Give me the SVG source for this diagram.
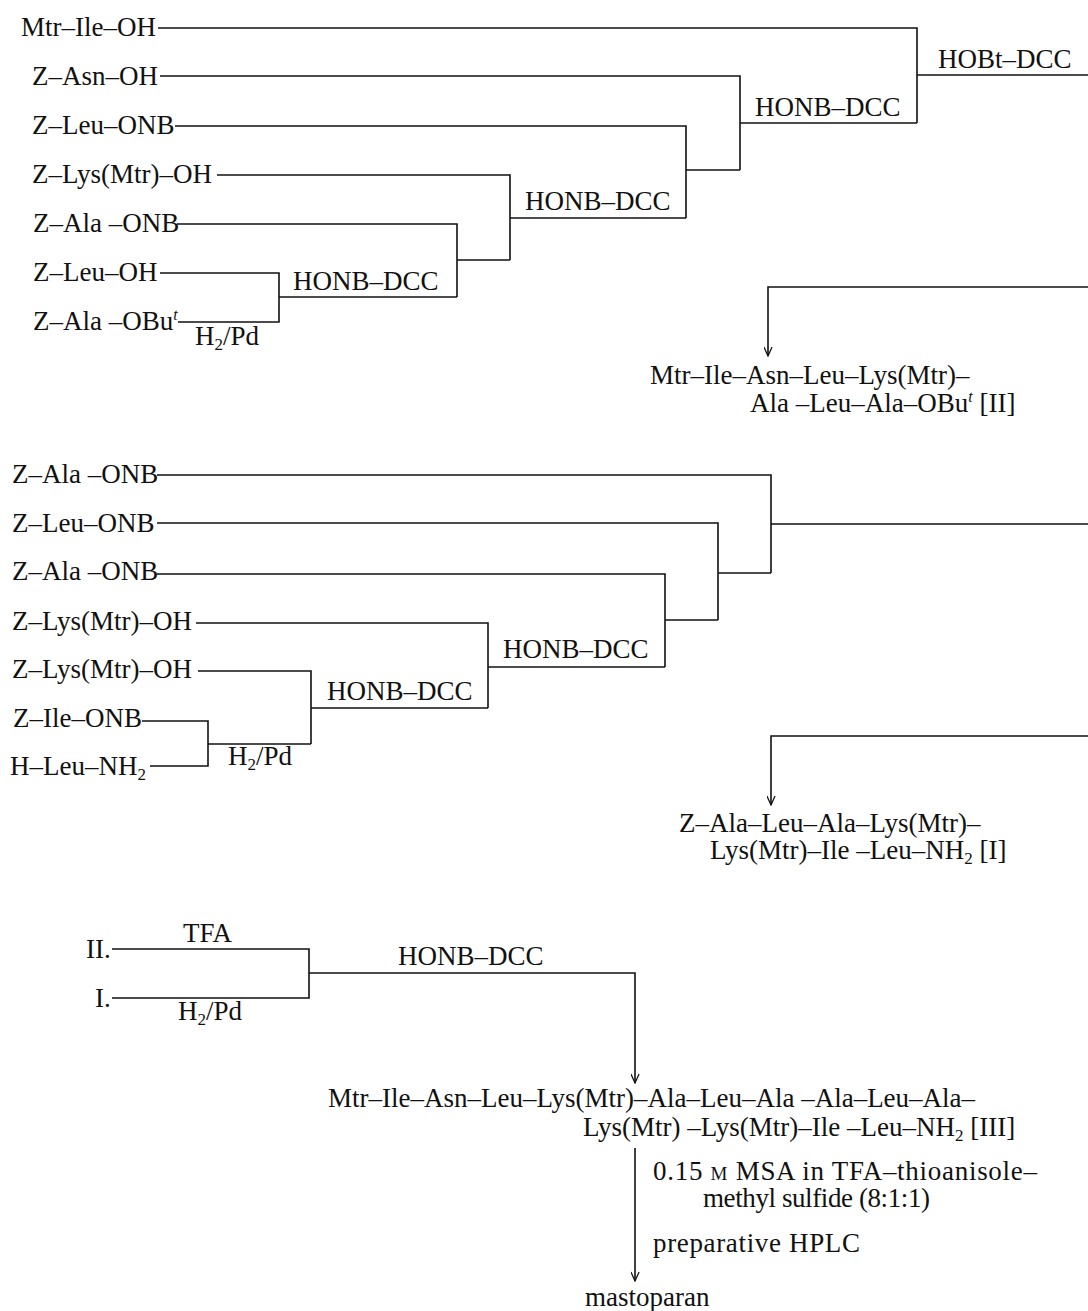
<svg xmlns="http://www.w3.org/2000/svg" width="1088" height="1311" viewBox="0 0 1088 1311">
<style>
text{font-family:"Liberation Serif","Times New Roman",serif;font-size:27px;fill:#111}
.ln{fill:none;stroke:#111;stroke-width:1.6}
.sub{font-size:17px}
.sup{font-size:16px;font-style:italic}
</style>
<defs>
<marker id="arr" viewBox="0 0 10 10" refX="10" refY="5" markerUnits="userSpaceOnUse" markerWidth="11" markerHeight="9" orient="auto">
<path d="M0,0.5 L10,5 L0,9.5" fill="none" stroke="#111" stroke-width="1.4"/>
</marker>
</defs>
<rect width="1088" height="1311" fill="#fff"/>
<g id="connectors">
<path class="ln" d="M158,28 H917 V123"/>
<path class="ln" d="M917,75 H1088"/>
<path class="ln" d="M160,76 H740 V170"/>
<path class="ln" d="M740,123 H917"/>
<path class="ln" d="M175,126 H686 V218"/>
<path class="ln" d="M686,170 H740"/>
<path class="ln" d="M217,175 H510 V260"/>
<path class="ln" d="M510,218 H686"/>
<path class="ln" d="M177,224 H457 V297"/>
<path class="ln" d="M457,260 H510"/>
<path class="ln" d="M160,273 H279 V322 H178"/>
<path class="ln" d="M279,297 H457"/>
<path class="ln" d="M1088,287 H768 V356" marker-end="url(#arr)"/>
<path class="ln" d="M157,475 H771 V573"/>
<path class="ln" d="M771,524 H1088"/>
<path class="ln" d="M157,523 H718 V620"/>
<path class="ln" d="M718,573 H771"/>
<path class="ln" d="M157,574 H665 V667"/>
<path class="ln" d="M665,620 H718"/>
<path class="ln" d="M196,623 H488 V708"/>
<path class="ln" d="M488,667 H665"/>
<path class="ln" d="M198,671 H311 V744"/>
<path class="ln" d="M311,708 H488"/>
<path class="ln" d="M142,721 H208 V766 H150"/>
<path class="ln" d="M208,744 H311"/>
<path class="ln" d="M1088,736 H771 V805" marker-end="url(#arr)"/>
<path class="ln" d="M112,949 H309 V998 H112"/>
<path class="ln" d="M309,973 H635 V1083" marker-end="url(#arr)"/>
<path class="ln" d="M635,1148 V1281" marker-end="url(#arr)"/>
</g>
<g id="n-mtr-ile-oh"><text x="21" y="36">Mtr–Ile–OH</text></g>
<g id="n-z-asn-oh"><text x="32" y="85">Z–Asn–OH</text></g>
<g id="n-z-leu-onb-a"><text x="32" y="134">Z–Leu–ONB</text></g>
<g id="n-z-lys-mtr-oh-a"><text x="32" y="183">Z–Lys(Mtr)–OH</text></g>
<g id="n-z-ala-onb-a"><text x="33" y="232">Z–Ala –ONB</text></g>
<g id="n-z-leu-oh"><text x="33" y="281">Z–Leu–OH</text></g>
<g id="n-z-ala-obut"><text x="33" y="330">Z–Ala –OBu<tspan class="sup" dy="-10">t</tspan></text></g>
<g id="l-h2pd-a"><text x="195" y="345">H<tspan class="sub" dy="5">2</tspan><tspan dy="-5">/Pd</tspan></text></g>
<g id="l-honb-a"><text x="293" y="290">HONB–DCC</text></g>
<g id="l-honb-b"><text x="525" y="210">HONB–DCC</text></g>
<g id="l-honb-c"><text x="755" y="116">HONB–DCC</text></g>
<g id="l-hobt"><text x="938" y="68">HOBt–DCC</text></g>
<g id="n-product-ii">
<text x="650" y="384">Mtr–Ile–Asn–Leu–Lys(Mtr)–</text>
<text x="750" y="412">Ala –Leu–Ala–OBu<tspan class="sup" dy="-10">t</tspan><tspan dy="10">  [II]</tspan></text>
</g>
<g id="n-z-ala-onb-b"><text x="12" y="483">Z–Ala –ONB</text></g>
<g id="n-z-leu-onb-b"><text x="12" y="532">Z–Leu–ONB</text></g>
<g id="n-z-ala-onb-c"><text x="12" y="580">Z–Ala –ONB</text></g>
<g id="n-z-lys-mtr-oh-b"><text x="12" y="630">Z–Lys(Mtr)–OH</text></g>
<g id="n-z-lys-mtr-oh-c"><text x="12" y="678">Z–Lys(Mtr)–OH</text></g>
<g id="n-z-ile-onb"><text x="13" y="727">Z–Ile–ONB</text></g>
<g id="n-h-leu-nh2"><text x="10" y="775">H–Leu–NH<tspan class="sub" dy="5">2</tspan></text></g>
<g id="l-h2pd-b"><text x="228" y="765">H<tspan class="sub" dy="5">2</tspan><tspan dy="-5">/Pd</tspan></text></g>
<g id="l-honb-d"><text x="327" y="700">HONB–DCC</text></g>
<g id="l-honb-e"><text x="503" y="658">HONB–DCC</text></g>
<g id="n-product-i">
<text x="679" y="832">Z–Ala–Leu–Ala–Lys(Mtr)–</text>
<text x="710" y="859">Lys(Mtr)–Ile –Leu–NH<tspan class="sub" dy="5">2</tspan><tspan dy="-5">  [I]</tspan></text>
</g>
<g id="n-ii"><text x="86" y="958">II.</text></g>
<g id="n-i"><text x="95" y="1007">I.</text></g>
<g id="l-tfa"><text x="183" y="942">TFA</text></g>
<g id="l-h2pd-c"><text x="178" y="1020">H<tspan class="sub" dy="5">2</tspan><tspan dy="-5">/Pd</tspan></text></g>
<g id="l-honb-f"><text x="398" y="965">HONB–DCC</text></g>
<g id="n-product-iii">
<text x="328" y="1107">Mtr–Ile–Asn–Leu–Lys(Mtr)–Ala–Leu–Ala –Ala–Leu–Ala–</text>
<text x="583" y="1136">Lys(Mtr) –Lys(Mtr)–Ile  –Leu–NH<tspan class="sub" dy="5">2</tspan><tspan dy="-5">  [III]</tspan></text>
</g>
<g id="l-reagents">
<text x="653" y="1180" textLength="384" lengthAdjust="spacing">0.15 <tspan font-size="19">M</tspan> MSA in TFA–thioanisole–</text>
<text x="703" y="1207" textLength="227" lengthAdjust="spacing">methyl sulfide (8:1:1)</text>
<text x="653" y="1252" textLength="207" lengthAdjust="spacing">preparative HPLC</text>
</g>
<g id="n-mastoparan"><text x="585" y="1306">mastoparan</text></g>
</svg>
